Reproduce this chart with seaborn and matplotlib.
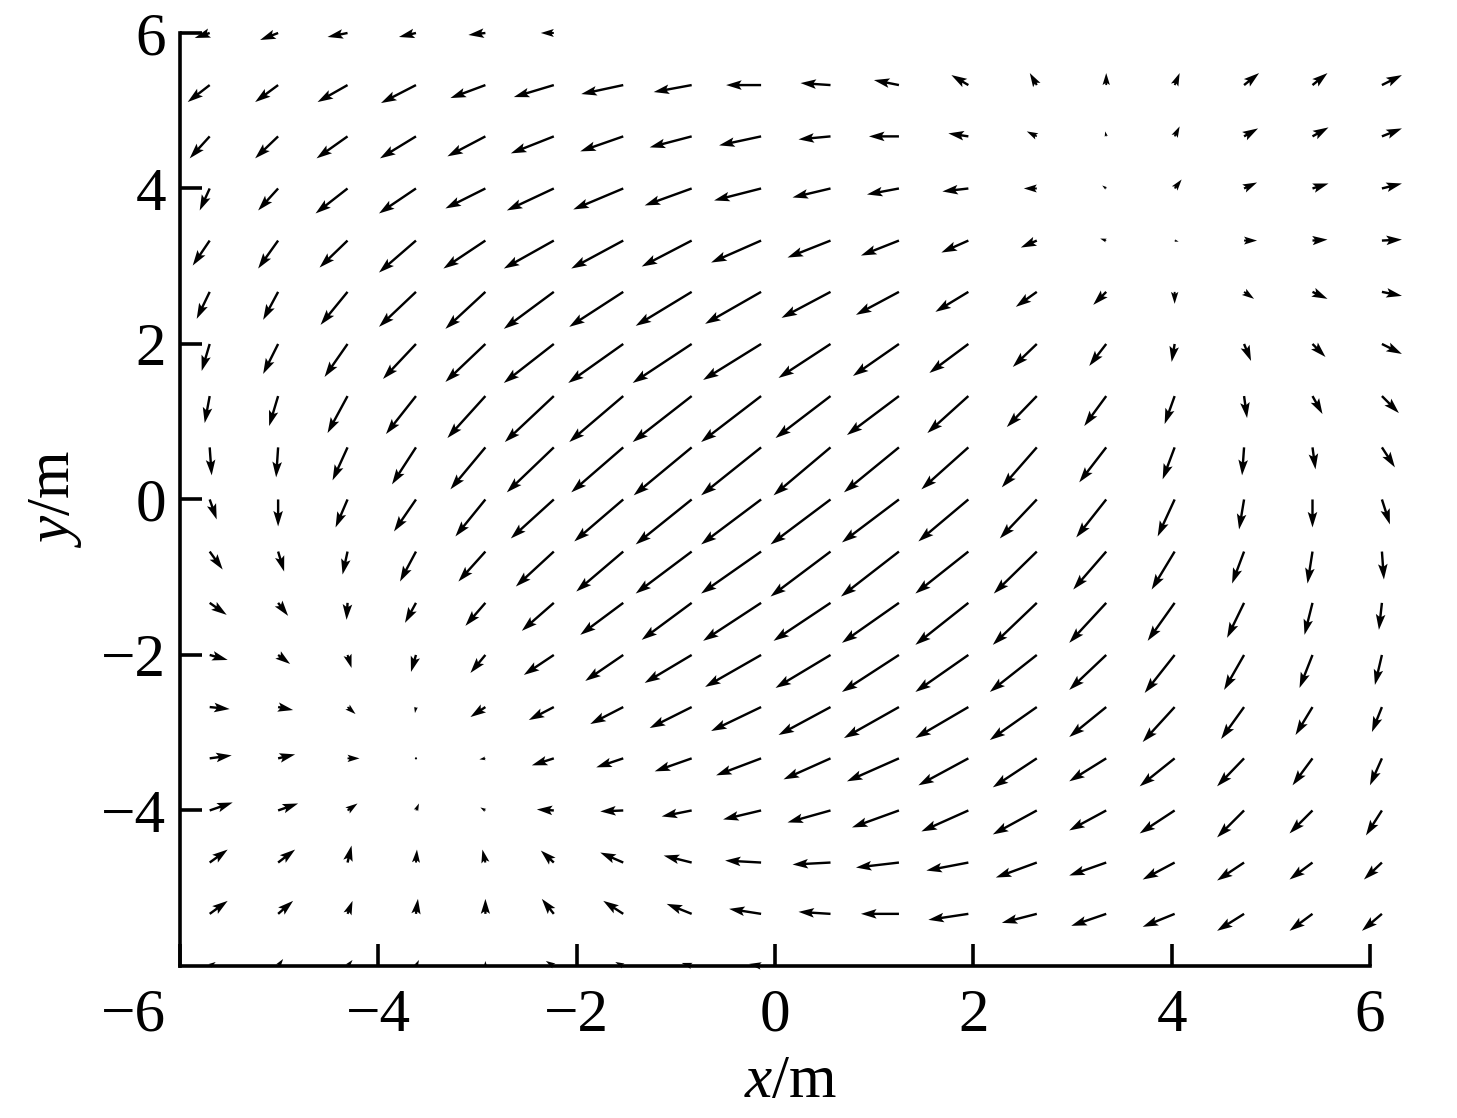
import numpy as np
import seaborn as sns
import matplotlib.pyplot as plt
import matplotlib.transforms as mtransforms

# grid of arrow tails
x_pos = [-5.70, -5.01, -4.31, -3.62, -2.92, -2.23, -1.53, -0.84, -0.14,
         0.56, 1.25, 1.95, 2.64, 3.34, 4.03, 4.73, 5.42, 6.12]
y_pos = [6.00, 5.33, 4.67, 4.00, 3.33, 2.67, 2.00, 1.33, 0.67, 0.00,
         -0.67, -1.33, -2.00, -2.67, -3.33, -4.00, -4.67, -5.33, -6.00]

N = np.nan
# x component of the field, one list per row (top row first)
u_rows = [
    [-15, -18, -20, -17, -17, -13, N, N, N, N, N, N, N, N, N, N, N, N],
    [-22, -23, -30, -35, -35, -40, -42, -38, -35, -30, -25, -17, -7, 0, 5, 15, 15, 20],
    [-20, -23, -31, -36, -38, -43, -43, -42, -42, -32, -30, -20, -10, -1, 5, 14, 16, 20],
    [-10, -20, -32, -37, -40, -47, -50, -47, -47, -38, -32, -26, -13, -4, 7, 13, 16, 20],
    [-17, -20, -28, -37, -42, -50, -52, -50, -50, -43, -38, -27, -16, -6, 4, 13, 15, 20],
    [-13, -15, -27, -37, -40, -50, -54, -56, -56, -49, -43, -33, -21, -13, 0, 10, 15, 20],
    [-8, -15, -23, -33, -40, -50, -55, -59, -58, -52, -46, -39, -24, -17, -3, 7, 13, 20],
    [-5, -9, -20, -30, -38, -49, -54, -59, -60, -55, -52, -41, -30, -22, -10, 3, 10, 17],
    [2, -2, -15, -24, -35, -47, -52, -58, -60, -57, -55, -47, -35, -27, -12, -2, 3, 13],
    [7, 0, -12, -22, -30, -43, -49, -56, -60, -60, -57, -50, -37, -30, -17, -5, 0, 8],
    [13, 6, -5, -16, -27, -38, -47, -56, -60, -60, -58, -53, -43, -33, -23, -12, -5, 2],
    [17, 10, -1, -11, -20, -32, -43, -50, -58, -57, -57, -53, -44, -37, -27, -17, -8, -3],
    [18, 12, 4, -5, -15, -30, -38, -47, -56, -55, -57, -53, -47, -37, -30, -20, -13, -7],
    [20, 15, 8, -1, -15, -25, -33, -42, -50, -52, -55, -53, -47, -37, -32, -23, -17, -10],
    [22, 17, 12, 1, -6, -22, -27, -37, -45, -47, -52, -50, -44, -37, -35, -27, -20, -12],
    [23, 20, 10, 3, -5, -17, -23, -30, -38, -43, -47, -47, -44, -37, -35, -27, -23, -16],
    [18, 17, 4, 1, -3, -13, -23, -28, -36, -38, -43, -42, -41, -37, -32, -27, -23, -18],
    [18, 15, 5, 2, 0, -12, -20, -25, -32, -32, -38, -40, -35, -35, -32, -27, -23, -20],
    [6, 5, 5, 3, 0, -8, -8, -10, -12, N, N, N, N, N, N, N, N, N],
]
# y component of the field
v_rows = [
    [-5, -7, -4, -4, -2, 0, N, N, N, N, N, N, N, N, N, N, N, N],
    [-17, -17, -17, -18, -13, -12, -9, -7, 0, 2, 5, 10, 12, 12, 12, 12, 12, 10],
    [-22, -22, -22, -22, -20, -17, -15, -11, -9, -3, 0, 3, 5, 5, 10, 8, 9, 8],
    [-22, -22, -25, -25, -20, -22, -21, -17, -12, -9, -6, -3, 0, 3, 9, 6, 5, 5],
    [-25, -28, -27, -32, -28, -28, -28, -26, -22, -17, -15, -12, -7, 2, -1, 0, 1, 1],
    [-27, -28, -33, -35, -37, -37, -35, -34, -32, -26, -23, -20, -15, -13, -12, -7, -7, -4],
    [-27, -30, -33, -35, -38, -39, -39, -39, -36, -34, -32, -29, -23, -22, -18, -17, -13, -10],
    [-27, -30, -37, -38, -42, -46, -46, -46, -46, -42, -39, -37, -31, -30, -28, -22, -18, -17],
    [-28, -30, -33, -37, -42, -45, -45, -48, -48, -48, -45, -42, -40, -35, -32, -28, -22, -20],
    [-20, -27, -28, -32, -37, -39, -42, -45, -45, -45, -43, -42, -39, -38, -37, -30, -28, -25],
    [-18, -20, -23, -30, -30, -35, -40, -42, -42, -45, -45, -42, -42, -38, -38, -32, -32, -28],
    [-12, -13, -17, -20, -23, -28, -32, -37, -38, -38, -40, -42, -42, -40, -38, -35, -32, -27],
    [-5, -9, -13, -17, -18, -20, -26, -28, -32, -33, -37, -37, -37, -35, -38, -35, -33, -30],
    [-2, -3, -7, -6, -10, -13, -17, -21, -24, -28, -31, -31, -33, -30, -35, -32, -28, -25],
    [3, 4, 0, 0, -1, -7, -9, -13, -17, -21, -23, -27, -29, -23, -28, -28, -27, -27],
    [8, 7, 7, 7, 3, 1, -1, -6, -9, -12, -17, -21, -24, -20, -23, -27, -23, -25],
    [13, 13, 17, 13, 13, 12, 10, 7, 2, -2, -5, -8, -15, -13, -17, -18, -17, -17],
    [13, 13, 13, 15, 15, 15, 13, 10, 5, 2, 0, -6, -9, -12, -13, -17, -17, -17],
    [4, 7, 6, 6, 5, 5, 4, 3, 2, N, N, N, N, N, N, N, N, N],
]

sns.set_style("ticks")
plt.rcParams["font.family"] = ["Liberation Serif", "DejaVu Serif"]
plt.rcParams["mathtext.fontset"] = "custom"
plt.rcParams["mathtext.rm"] = "Liberation Serif"
plt.rcParams["mathtext.it"] = "Liberation Serif:italic"
plt.rcParams["text.color"] = "black"
plt.rcParams["axes.labelcolor"] = "black"
plt.rcParams["xtick.color"] = "black"
plt.rcParams["ytick.color"] = "black"

X, Y = np.meshgrid(x_pos, y_pos)
U = np.array(u_rows, dtype=float)
V = np.array(v_rows, dtype=float)

fig = plt.figure(figsize=(14.57, 11.18), dpi=100)
ax = fig.add_axes([0.1235, 0.1360, 0.8168, 0.8345])

ax.quiver(X, Y, U, V, angles="uv", scale_units="dots", scale=1,
          units="dots", width=2.4, headwidth=4, headlength=6.5,
          headaxislength=5.5, color="black", pivot="tail", clip_on=False)

ax.set_xlim(-6, 6)
ax.set_ylim(-6, 6)
ax.set_xticks([-6, -4, -2, 0, 2, 4, 6])
ax.set_yticks([-4, -2, 0, 2, 4, 6])

sns.despine(ax=ax)
for s in ["left", "bottom"]:
    ax.spines[s].set_linewidth(2.6)
    ax.spines[s].set_color("black")

ax.tick_params(axis="both", direction="in", length=16, width=2.6,
               labelsize=44, color="black", labelcolor="black")
ax.tick_params(axis="x", pad=16)
ax.tick_params(axis="y", pad=10)

# the -6 label sits left of the corner, clear of the y axis
first = ax.get_xticklabels()[0]
first.set_horizontalalignment("right")
first.set_transform(first.get_transform() +
                    mtransforms.ScaledTranslation(-0.14, 0, fig.dpi_scale_trans))

ax.set_xlabel("$x$/m", fontsize=44, labelpad=8)
ax.xaxis.label.set_x(0.513)
ax.set_ylabel("$y$/m", fontsize=44, labelpad=12)

fig.savefig("out.png", dpi=100)
